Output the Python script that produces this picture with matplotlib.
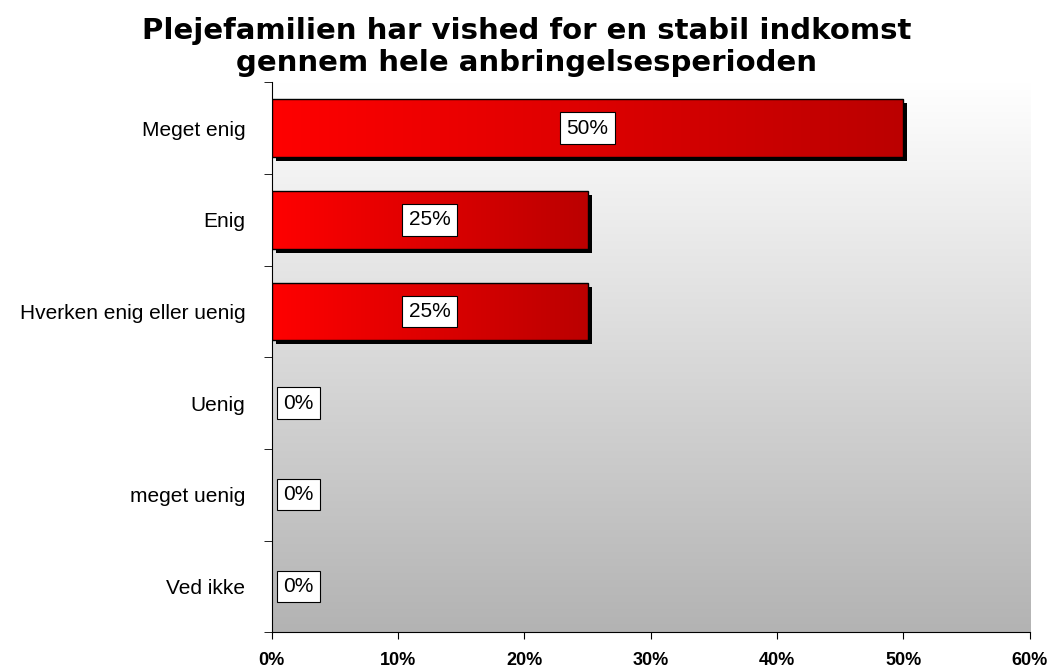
import numpy as np
import matplotlib
matplotlib.use('Agg')
import matplotlib.pyplot as plt
from matplotlib.colors import LinearSegmentedColormap
from matplotlib.patches import Rectangle
from matplotlib.transforms import offset_copy

categories = ["Meget enig", "Enig", "Hverken enig eller uenig", "Uenig", "meget uenig", "Ved ikke"]
values = [50, 25, 25, 0, 0, 0]
xticks = [0, 10, 20, 30, 40, 50, 60]
title = "Plejefamilien har vished for en stabil indkomst\ngennem hele anbringelsesperioden"

plt.rcParams["font.family"] = ["Liberation Sans", "DejaVu Sans"]

fig = plt.figure(figsize=(10.53, 6.69), dpi=100)
ax = fig.add_axes([0.258, 0.055, 0.72, 0.822])

n = len(categories)
ypos = np.arange(n)[::-1]
ax.set_xlim(0, 60)
ax.set_ylim(-0.5, n - 0.5)

# background gradient (white top -> grey bottom)
bg = LinearSegmentedColormap.from_list("bg", ["#b3b3b3", "#ffffff"])
grad = np.linspace(0, 1, 256).reshape(-1, 1)
ax.imshow(grad, cmap=bg, origin="lower", extent=[0, 1, 0, 1], transform=ax.transAxes,
          aspect="auto", zorder=0)

red = LinearSegmentedColormap.from_list("red", ["#ff0000", "#bb0000"])
hgrad = np.linspace(0, 1, 256).reshape(1, -1)
h = 0.63
shadow_tr = offset_copy(ax.transData, fig=fig, x=4, y=-4, units="dots")
box = dict(boxstyle="square,pad=0.3", fc="white", ec="black", lw=0.8)
for y, v in zip(ypos, values):
    if v > 0:
        ax.add_patch(Rectangle((0, y - h / 2), v, h, facecolor="black", edgecolor="none",
                               transform=shadow_tr, zorder=2))
        im = ax.imshow(hgrad, cmap=red, extent=[0, v, y - h / 2, y + h / 2],
                       aspect="auto", zorder=3)
        r = Rectangle((0, y - h / 2), v, h, facecolor="none", edgecolor="black", lw=1, zorder=4)
        ax.add_patch(r)
        im.set_clip_path(r)
        ax.text(v / 2, y, f"{v}%", ha="center", va="center", fontsize=15, zorder=5, bbox=box)
    else:
        ax.text(0.9, y, f"{v}%", ha="left", va="center", fontsize=15, zorder=5, bbox=box)

ax.set_yticks(ypos)
ax.set_yticklabels(categories, fontsize=15)
ax.set_yticks(np.arange(-0.5, n, 1), minor=True)
ax.tick_params(axis="y", which="major", length=0, pad=19)
ax.tick_params(axis="y", which="minor", length=6, direction="out")
ax.set_xticks(xticks)
ax.set_xticklabels([f"{t}%" for t in xticks], fontsize=13, fontweight="bold")
ax.tick_params(axis="x", length=5, direction="out", pad=9)
for s in ["top", "right"]:
    ax.spines[s].set_visible(False)
ax.set_aspect("auto")

fig.suptitle(title, fontsize=21, fontweight="heavy", y=0.975, linespacing=1.2,
             family=["DejaVu Sans"])
plt.savefig("out.png")
